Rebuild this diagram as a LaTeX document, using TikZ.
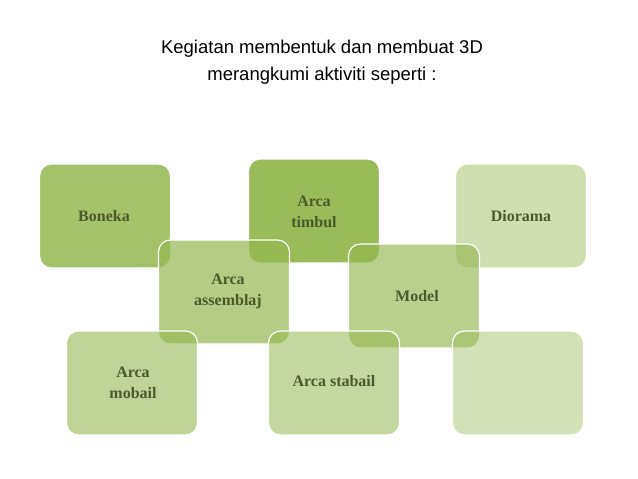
\documentclass[tikz,border=0pt]{standalone}
\usepackage{fontspec}
\setmainfont{Liberation Serif}
\newfontfamily\titlefont{Liberation Sans}
\definecolor{gbase}{HTML}{94B750}
\definecolor{txt}{HTML}{4A5A2A}
\begin{document}
\begin{tikzpicture}[x=1pt,y=-1pt,
  card/.style={draw=white,line width=1.2pt,rounded corners=12pt,fill=gbase,minimum width=131pt,minimum height=104pt,inner sep=0pt,align=center,text=txt,font=\bfseries\fontsize{16}{21}\selectfont,text opacity=1}]
\useasboundingbox (0,0) rectangle (638,479);
\node[font=\titlefont\fontsize{18.5}{27}\selectfont,align=center] (title) at (322,62) {Kegiatan membentuk dan membuat 3D\\merangkumi aktiviti seperti :};
\node[card,fill opacity=0.85] (boneka) at (105,216) {};
\node[card,fill opacity=0.95] (timbul) at (314,211) {};
\node[card,fill opacity=0.45] (diorama) at (521,216) {};
\node[card,fill opacity=0.7] (assem) at (224,292) {};
\node[card,fill opacity=0.65] (model) at (414,296) {};
\node[card,fill opacity=0.6] (mobail) at (132,383) {};
\node[card,fill opacity=0.55] (stabail) at (334,383) {};
\node[card,fill opacity=0.42] (empty) at (518,383) {};
\node[text=txt,font=\bfseries\fontsize{16}{21}\selectfont,align=center] (t1) at (104,216) {Boneka};
\node[text=txt,font=\bfseries\fontsize{16}{21}\selectfont,align=center] (t2) at (314,212) {Arca\\timbul};
\node[text=txt,font=\bfseries\fontsize{16}{21}\selectfont,align=center] (t3) at (521,216) {Diorama};
\node[text=txt,font=\bfseries\fontsize{16}{21}\selectfont,align=center] (t4) at (228,291) {Arca\\assemblaj};
\node[text=txt,font=\bfseries\fontsize{16}{21}\selectfont,align=center] (t5) at (417,296) {Model};
\node[text=txt,font=\bfseries\fontsize{16}{21}\selectfont,align=center] (t6) at (133,383) {Arca\\mobail};
\node[text=txt,font=\bfseries\fontsize{16}{21}\selectfont,align=center] (t7) at (334,381) {Arca stabail};
\end{tikzpicture}
\end{document}
